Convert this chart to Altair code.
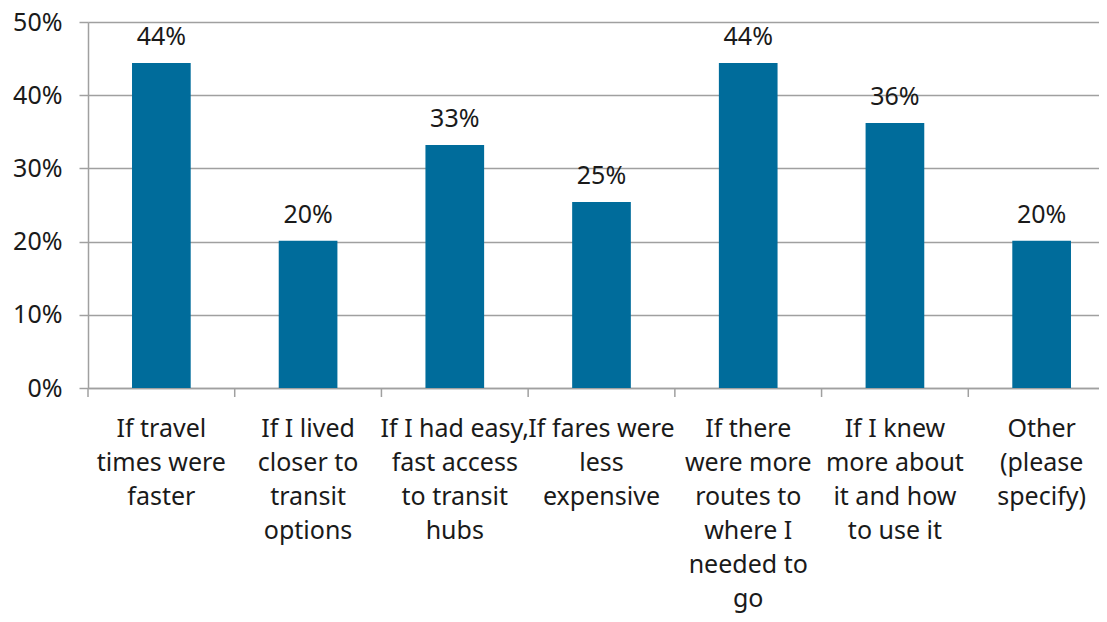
import altair as alt
import pandas as pd

categories = [
    "If travel\ntimes were\nfaster",
    "If I lived\ncloser to\ntransit\noptions",
    "If I had easy,\nfast access\nto transit\nhubs",
    "If fares were\nless\nexpensive",
    "If there\nwere more\nroutes to\nwhere I\nneeded to\ngo",
    "If I knew\nmore about\nit and how\nto use it",
    "Other\n(please\nspecify)",
]
values = [0.444, 0.201, 0.332, 0.254, 0.444, 0.362, 0.201]
y_ticks = [0, 0.1, 0.2, 0.3, 0.4, 0.5]

df = pd.DataFrame({"cat": categories, "val": values})

FONT = "Noto Sans"
W, H = 1027, 366

xscale = alt.Scale(paddingInner=0, paddingOuter=0)

base = alt.Chart(df)

bars = base.mark_bar(color="#006C9B", width=alt.RelativeBandSize(0.4)).encode(
    x=alt.X(
        "cat:N",
        sort=None,
        scale=xscale,
        title=None,
        axis=alt.Axis(
            labelExpr="split(datum.label, '\\n')",
            labelAngle=0,
            labelFontSize=25,
            labelLineHeight=34,
            labelColor="#1a1a1a",
            labelFont=FONT,
            labelPadding=28,
            ticks=False,
            domain=True,
            domainColor="#a0a0a0",
            domainWidth=1.5,
            grid=False,
            labelLimit=300,
        ),
    ),
    y=alt.Y(
        "val:Q",
        scale=alt.Scale(domain=[0, 0.5], nice=False),
        title=None,
        axis=alt.Axis(
            values=y_ticks,
            format=".0%",
            labelFontSize=25,
            labelColor="#1a1a1a",
            labelFont=FONT,
            labelPadding=17,
            tickSize=9,
            tickColor="#a0a0a0",
            tickWidth=1.5,
            domainColor="#a0a0a0",
            domainWidth=1.5,
            gridColor="#a0a0a0",
            gridWidth=1.5,
        ),
    ),
)

labels = base.mark_text(
    baseline="bottom", dy=-13, fontSize=25, font=FONT, color="#1a1a1a"
).encode(
    x=alt.X("cat:N", sort=None, scale=xscale),
    y=alt.Y("val:Q"),
    text=alt.Text("val:Q", format=".0%"),
)

ticks = base.mark_rule(color="#a0a0a0", strokeWidth=1.5).encode(
    x=alt.X("cat:N", sort=None, scale=xscale, bandPosition=0),
    y=alt.value(H),
    y2=alt.value(H + 9),
)

chart = (
    alt.layer(bars, ticks, labels)
    .properties(
        width=W,
        height=H,
        autosize=alt.AutoSizeParams(type="none"),
        padding={"left": 80, "top": 14, "right": -16, "bottom": 226},
    )
    .configure_view(stroke=None)
    .configure_axis(labelFont=FONT)
)

chart.save("out.html", embed_options={"renderer": "svg", "actions": False})
